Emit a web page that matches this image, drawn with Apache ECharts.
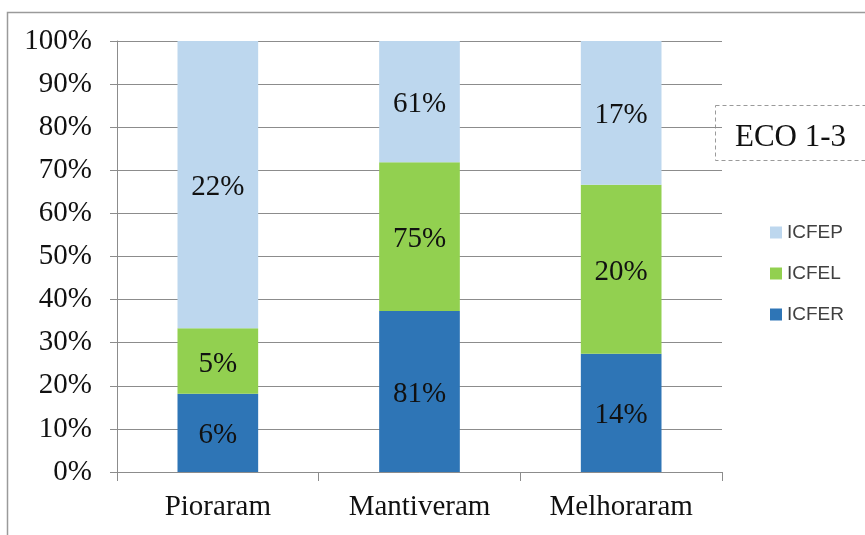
<!DOCTYPE html>
<html>
<head>
<meta charset="utf-8">
<script src="https://cdn.jsdelivr.net/npm/echarts@6/dist/echarts.min.js"></script>
<style>
  html, body { margin: 0; padding: 0; background: #fff; }
  #chart { width: 865px; height: 535px; }
</style>
</head>
<body>
<div id="chart"></div>
<script>
// categories and raw values (labels show raw values, bars are 100% stacked)
const categories = ["Pioraram", "Mantiveram", "Melhoraram"];
const icfer = [6, 81, 14];
const icfel = [5, 75, 20];
const icfep = [22, 61, 17];
const yTicks = [0, 10, 20, 30, 40, 50, 60, 70, 80, 90, 100];

const serif = "Liberation Serif";
const totals = categories.map((c, i) => icfer[i] + icfel[i] + icfep[i]);
const share = arr => arr.map((v, i) => (v / totals[i]) * 100);

const chart = echarts.init(document.getElementById("chart"));

function makeSeries(name, raw, color) {
  return {
    name: name,
    type: "bar",
    stack: "total",
    barWidth: "40%",
    data: share(raw),
    itemStyle: { color: color },
    label: {
      show: true,
      position: "inside",
      offset: [0, 3],
      fontFamily: serif,
      fontSize: 29,
      color: "#111",
      formatter: p => raw[p.dataIndex] + "%"
    },
    emphasis: { disabled: true }
  };
}

chart.setOption({
  animation: false,
  grid: { left: 117, right: 143, top: 41, bottom: 63 },
  legend: {
    orient: "vertical",
    left: 765,
    top: 218,
    itemWidth: 12,
    itemHeight: 12,
    itemGap: 22,
    icon: "rect",
    textStyle: { fontFamily: "Liberation Sans", fontSize: 19, color: "#404040" },
    data: ["ICFEP", "ICFEL", "ICFER"]
  },
  xAxis: {
    type: "category",
    data: categories,
    axisLine: { lineStyle: { color: "#8c8c8c" } },
    axisTick: { show: true, length: 9, lineStyle: { color: "#8c8c8c" } },
    axisLabel: { fontFamily: serif, fontSize: 29, color: "#111", margin: 21 }
  },
  yAxis: {
    type: "value",
    min: yTicks[0],
    max: yTicks[yTicks.length - 1],
    interval: 10,
    axisLine: { show: true, lineStyle: { color: "#8c8c8c" } },
    axisTick: { show: true, length: 7, lineStyle: { color: "#8c8c8c" } },
    axisLabel: {
      fontFamily: serif, fontSize: 29, color: "#111", margin: 25,
      formatter: "{value}%"
    },
    splitLine: { lineStyle: { color: "#8c8c8c", width: 1 } }
  },
  graphic: [
    {
      type: "rect",
      shape: { x: 7.5, y: 12.5, width: 880, height: 560 },
      style: { fill: null, stroke: "#9a9a9a", lineWidth: 1.5 },
      silent: true
    },
    {
      type: "rect",
      shape: { x: 715.5, y: 105.5, width: 170, height: 55 },
      style: { fill: "#fff", stroke: "#9a9a9a", lineWidth: 1, lineDash: [4, 3] },
      silent: true
    },
    {
      type: "text",
      left: 735,
      top: 122,
      style: { text: "ECO 1-3", fontFamily: serif, fontSize: 31, fill: "#111" },
      silent: true
    }
  ],
  series: [
    makeSeries("ICFER", icfer, "#2e75b6"),
    makeSeries("ICFEL", icfel, "#92d050"),
    makeSeries("ICFEP", icfep, "#bdd7ee")
  ]
});
</script>
</body>
</html>
